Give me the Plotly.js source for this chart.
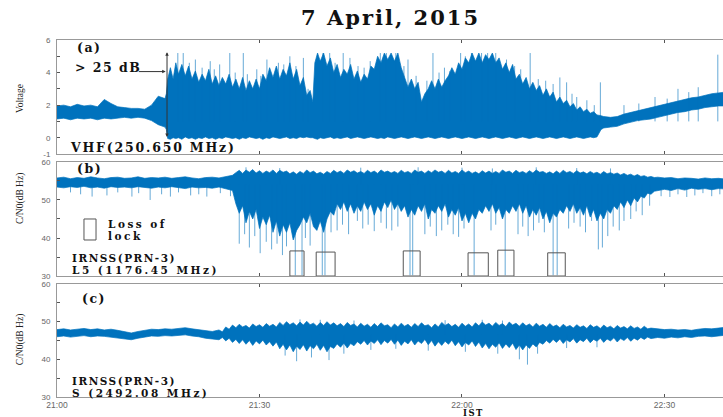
<!DOCTYPE html>
<html><head><meta charset="utf-8">
<script src="https://cdn.plot.ly/plotly-3.0.1.min.js"></script>
<style>html,body{margin:0;padding:0;background:#fff}#chart{width:723px;height:417px}</style>
</head><body><div id="chart"></div>
<script>
// ---------- DATA (minutes after 21:00 IST) ----------
const xTickVals = [0, 30, 60, 90];
const xTickText = ['21:00', '21:30', '22:00', '22:30'];

// Panel (a) VHF voltage envelope
const aT  = [0,1,2,3,4,5,6,7,8,9,
             10,11,12,13,14,15,16,16.2,16.4,16.8,
             17.2,17.6,18,18.5,19,19.5,20,20.5,21,21.5,
             22,22.5,23,23.5,24,24.5,25,25.5,26,26.5,
             27,27.5,28,28.5,29,29.5,30,30.5,31,31.5,
             32,32.5,33,33.5,34,34.5,35,35.5,36,36.5,
             37,37.5,37.9,38.2,38.6,39,39.5,40,40.5,41,
             41.5,42,42.5,43,43.5,44,44.5,45,45.5,46,
             46.5,47,47.5,48,48.5,49,49.5,50,50.5,51,
             51.5,52,52.5,53,53.5,54,54.5,55,55.5,56,
             56.5,57,57.5,58,58.5,59,59.5,60,60.5,61,
             61.5,62,62.5,63,63.5,64,64.5,65,65.5,66,
             66.5,67,67.5,68,68.5,69,69.5,70,70.5,71,
             71.5,72,72.5,73,73.5,74,74.5,75,75.5,76,
             76.5,77,77.5,78,78.5,79,79.5,80,80.6,81,
             82,83,84,85,86,87,88,89,90,91,
             92,93,94,95,96,97,98,99];
const aHi = [1.95,2.0,1.9,2.05,1.95,2.0,1.9,2.35,2.1,1.9,
             1.85,1.8,1.8,1.75,2.0,2.55,2.4,2.7,3.6,4.3,
             3.6,4.6,3.9,4.5,3.8,4.4,3.6,4.1,3.4,3.9,
             3.5,4.2,3.3,3.8,3.2,3.7,3.3,3.9,3.1,3.6,
             3.0,3.7,2.9,3.5,3.0,3.6,3.0,3.9,3.5,4.3,
             3.7,4.4,3.6,4.2,3.8,4.6,3.6,4.2,3.2,3.7,
             2.6,2.9,2.2,4.6,5.2,4.7,5.2,4.4,4.9,4.0,
             4.5,3.7,4.2,3.9,4.5,3.6,4.1,3.4,3.9,3.6,
             4.4,4.2,5.0,4.6,5.2,4.8,5.2,4.7,5.2,4.3,
             3.7,3.1,3.6,3.0,3.4,2.2,2.7,3.0,3.5,3.0,
             3.6,3.1,3.5,3.8,4.3,3.9,4.6,4.2,4.9,4.6,
             5.2,4.7,5.2,4.6,5.1,4.8,5.2,4.6,4.9,4.2,
             4.6,4.0,4.5,3.6,3.9,3.3,3.7,3.0,3.4,2.9,
             3.2,2.6,3.0,2.5,2.8,2.2,2.5,2.1,2.3,1.9,
             2.1,1.7,1.9,1.6,1.75,1.5,1.6,1.4,1.35,1.3,
             1.25,1.3,1.45,1.55,1.65,1.75,1.85,1.95,2.05,2.15,
             2.25,2.35,2.45,2.5,2.6,2.7,2.75,2.8];
const aLo = [1.15,1.2,1.1,1.2,1.15,1.2,1.1,1.2,1.15,1.2,
             1.25,1.2,1.25,1.2,1.05,0.8,0.65,0.5,-0.05,-0.1,
             0.0,-0.05,0.0,-0.1,0.05,-0.05,0.0,-0.1,0.0,-0.05,
             0.05,-0.05,0.0,-0.1,0.0,-0.05,0.05,0.0,-0.05,0.0,
             -0.1,0.0,-0.05,0.05,0.0,-0.05,0.0,-0.1,0.0,-0.05,
             0.05,0.0,-0.05,0.0,0.05,-0.05,0.0,-0.05,0.05,0.0,
             0.05,0.0,0.0,-0.05,-0.1,0.0,-0.05,0.0,0.05,-0.05,
             0.0,-0.05,0.0,0.05,-0.05,0.0,0.05,0.0,-0.05,0.0,
             0.05,0.0,-0.05,0.0,-0.05,0.05,0.0,-0.05,0.0,0.05,
             0.0,-0.05,0.0,0.05,0.0,-0.05,0.0,0.05,0.0,-0.05,
             0.0,0.05,0.0,-0.05,0.0,0.05,0.0,-0.05,0.0,0.05,
             0.0,-0.05,0.0,0.05,0.0,-0.05,0.0,0.05,0.0,-0.05,
             0.0,0.05,0.0,-0.05,0.0,0.05,0.0,-0.05,0.0,0.05,
             0.0,-0.05,0.0,0.05,0.0,-0.05,0.0,0.05,0.0,-0.05,
             0.0,0.05,0.0,-0.05,0.0,0.05,0.0,0.05,0.5,0.6,
             0.65,0.7,0.85,0.95,1.05,1.1,1.15,1.25,1.35,1.45,
             1.55,1.6,1.7,1.75,1.85,1.9,1.95,1.95];
const aSpikeT = [17.9,18.7,19.6,20.5,21.5,22.7,23.3,24.1,25.6,26.4, 27.6,28.2,29.6,30.2,31.1,32.8,33.6,34.5,35.4,36.5,
                 37.2,39.4,40.4,41.2,42.4,43.4,44.6,45.5,46.4,47.9, 48.8,50.2,51.4,52.0,53.2,54.8,55.7,56.6,57.4,58.2,
                 59.8,60.5,61.4,62.9,63.8,65.0,66.6,67.8,68.7,70.1, 71.3,72.4,73.5,74.5,75.5,76.3,77.0,78.5,79.6,80.5,
                 84.0,86.2,88.6,90.4,92.0,93.6,95.0,97.9];
const aSpikeV = [5.2,5.2,4.6,4.8,4.3,4.7,4.2,4.5,5.2,4.0, 5.2,3.9,4.2,3.8,4.8,4.6,4.5,5.0,4.4,4.9,
                 3.0,5.2,5.2,4.6,5.2,4.9,4.4,4.3,4.7,5.2, 5.2,5.2,4.4,4.8,3.8,3.5,5.2,4.0,4.3,4.1,
                 5.2,5.0,5.2,5.2,5.2,5.2,4.8,4.4,4.2,5.2, 3.6,3.5,3.3,3.7,3.4,2.7,2.5,2.3,2.0,3.4,
                 2.0,2.1,2.5,2.4,3.0,2.8,3.1,5.1];

// Panel (b) IRNSS L5 C/N0 envelope
const bT  = [0,1,2,3,4,5,6,7,8,9, 10,11,12,13,14,15,16,17,18,19, 20,21,22,23,24,25,26,
             26.5,27,27.5,28,28.5,29,29.5,30,30.5,31,
             31.5,32,32.5,33,33.5,34,34.5,35,35.5,36,
             36.5,37,37.5,38,38.5,39,39.5,40,40.5,41,
             41.5,42,42.5,43,43.5,44,44.5,45,45.5,46,
             46.5,47,47.5,48,48.5,49,49.5,50,50.5,51,
             51.5,52,52.5,53,53.5,54,54.5,55,55.5,56,
             56.5,57,57.5,58,58.5,59,59.5,60,60.5,61,
             61.5,62,62.5,63,63.5,64,64.5,65,65.5,66,
             66.5,67,67.5,68,68.5,69,69.5,70,70.5,71,
             71.5,72,72.5,73,73.5,74,74.5,75,75.5,76,
             76.5,77,77.5,78,78.5,79,79.5,80,80.5,81,
             81.5,82,82.5,83,83.5,84,84.5,85,85.5,86,
             86.5,87,87.5,88,88.5,89,
             90,91,92,93,94,95,96,97,98,99];
const bHi = [55.8,56.0,55.6,55.9,55.7,56.1,55.8,55.6,55.9,56.0, 55.7,55.8,56.1,55.7,55.9,55.8,56.0,55.7,55.9,56.1,
             55.8,55.6,55.9,56.0,55.8,56.2,56.5,
             57.2,57.8,57.0,57.9,57.3,58.0,57.1,57.7,57.0,57.6,
             57.2,57.9,57.0,57.8,57.3,57.6,56.9,57.4,56.8,57.5,
             57.0,57.9,57.2,57.6,56.9,57.3,56.8,57.5,57.0,57.8,
             57.2,57.6,57.0,57.9,57.3,57.7,57.1,57.5,57.0,57.8,
             57.2,57.6,57.0,57.9,57.3,57.6,57.1,57.5,57.0,57.8,
             57.2,57.5,57.0,57.9,57.3,57.6,57.0,57.7,57.2,57.9,
             57.3,57.6,57.0,57.8,57.1,57.5,57.0,57.9,57.2,57.6,
             57.0,57.4,56.9,57.7,57.1,57.6,57.0,57.5,57.0,57.9,
             57.3,57.6,57.0,57.8,57.2,57.5,57.0,57.7,57.1,57.9,
             57.3,57.5,57.0,57.4,56.9,57.6,57.0,57.8,57.2,57.5,
             57.0,57.7,57.1,57.4,56.9,57.5,57.0,57.3,56.8,57.5,
             56.9,57.2,56.8,57.1,56.6,57.0,56.5,56.8,56.3,56.7,
             56.2,56.4,56.0,56.2,55.9,56.0,
             55.8,55.9,55.6,55.8,55.7,55.5,55.8,55.6,55.7,55.5];
const bLo = [53.4,53.2,53.5,53.3,53.6,53.2,53.4,53.1,53.5,53.3, 53.4,53.2,53.5,53.3,53.1,53.4,53.2,53.5,53.3,53.0,
             53.4,53.2,53.3,53.1,53.4,53.0,52.5,
             49.0,46.5,48.5,44.0,47.0,45.0,47.5,42.5,45.5,43.5,
             46.0,41.5,44.5,40.5,43.5,41.5,44.0,39.5,42.0,43.5,
             45.5,44.0,46.5,43.0,42.0,44.5,41.5,45.0,47.0,46.0,
             49.0,47.5,49.5,47.0,49.0,46.5,48.5,47.0,49.5,47.5,
             49.0,46.0,48.5,47.0,49.5,48.0,50.0,47.5,49.0,47.0,
             48.5,45.5,47.5,46.0,48.5,47.0,49.0,45.0,47.5,46.5,
             48.5,47.0,49.0,45.5,47.5,46.0,48.0,44.5,46.5,44.0,
             46.5,45.0,47.5,46.5,48.5,47.0,49.0,46.5,48.0,45.0,
             47.5,46.5,48.5,47.0,49.0,46.5,48.5,45.5,47.5,46.0,
             48.0,45.0,47.0,44.0,46.5,45.5,47.5,46.5,48.5,47.0,
             49.0,46.5,48.0,46.0,48.5,45.5,47.5,44.5,46.5,45.0,
             47.5,46.5,48.5,47.5,49.5,48.0,50.0,48.5,50.5,49.5,
             51.0,50.5,51.8,51.5,52.3,52.5,
             52.8,52.5,53.0,52.6,53.1,52.8,53.0,52.7,53.0,52.9];
const bDropT = [2.0,3.5,5.2,7.4,9.0,11.1,12.1,13.8,15.5,16.8, 18.0,19.8,21.0,22.2,24.2,25.7,27.0,27.8,28.5,29.3,
                30.1,31.0,31.8,32.6,33.4,34.0,35.3,36.3,36.8,37.5, 39.3,39.7,40.6,41.5,42.3,43.2,44.5,45.3,46.1,47.0,
                48.0,48.8,49.6,50.5,52.3,52.7,54.5,55.3,56.2,57.0, 57.9,58.7,59.5,60.3,61.8,64.3,65.0,66.4,68.3,69.0,
                69.8,70.6,71.4,72.2,73.5,74.1,75.8,76.6,77.5,78.3, 79.2,80.2,80.8,81.6,82.4,83.3,84.0,85.0,85.8,86.7,
                87.8,89.5,90.8,92.0,93.3,94.5,95.7,97.0,98.2];
const bDropV = [52.0,51.5,50.9,51.2,52.0,50.9,51.8,50.0,51.5,50.9, 52.0,51.2,51.5,50.9,51.8,51.0,38.5,41.0,37.5,40.5,
                36.0,39.0,37.0,38.5,35.5,37.8,30.2,30.2,40.0,38.0, 30.2,30.2,41.5,42.0,43.5,41.0,44.5,42.5,43.5,41.8,
                44.0,42.5,42.0,43.0,30.2,30.2,41.0,43.0,40.5,42.0, 43.5,41.0,40.3,42.5,30.2,42.0,43.5,30.2,41.0,43.0,
                40.5,42.0,44.0,41.5,30.2,30.2,42.5,44.0,43.0,41.5, 44.5,37.0,37.5,40.5,43.0,42.0,44.5,45.0,47.0,46.0,
                48.5,51.0,50.8,51.5,50.8,51.2,51.8,51.0,51.5];
const bPeakT = [28.0,33.0,45.0,53.5,60.0,64.5,71.0,77.0,82.0];
const bPeakV = [58.6,58.4,58.5,58.6,58.5,58.3,58.6,58.4,58.3];
// Loss-of-lock windows
const lolStart = [34.5, 38.4, 51.3, 60.9, 65.3, 72.7];
const lolEnd   = [36.6, 41.2, 53.8, 63.9, 67.7, 75.3];
const lolTop   = [36.6, 36.3, 36.6, 36.1, 36.8, 36.1];

// Panel (c) IRNSS S-band C/N0 envelope
const cT  = [0,1,2,3,4,5,6,7,8,9, 10,11,12,13,14,15,16,17,18,19, 20,21,22,23,24,
             24.5,25,25.5,26,26.5,27,27.5,28,28.5,29,
             29.5,30,30.5,31,31.5,32,32.5,33,33.5,34,
             34.5,35,35.5,36,36.5,37,37.5,38,38.5,39,
             39.5,40,40.5,41,41.5,42,42.5,43,43.5,44,
             44.5,45,45.5,46,46.5,47,47.5,48,48.5,49,
             49.5,50,50.5,51,51.5,52,52.5,53,53.5,54,
             54.5,55,55.5,56,56.5,57,57.5,58,58.5,59,
             59.5,60,60.5,61,61.5,62,62.5,63,63.5,64,
             64.5,65,65.5,66,66.5,67,67.5,68,68.5,69,
             69.5,70,70.5,71,71.5,72,72.5,73,73.5,74,
             74.5,75,75.5,76,76.5,77,77.5,78,78.5,79,
             79.5,80,80.5,81,81.5,82,82.5,83,83.5,84,
             84.5,85,85.5,86,86.5,87,87.5,88,
             89,90,91,92,93,94,95,96,97,98,99];
const cHi = [47.9,48.1,47.8,48.0,48.2,47.9,48.1,47.8,48.0,47.7, 47.3,47.0,47.4,47.8,48.0,47.9,48.1,48.0,48.3,48.4, 48.1,47.9,47.6,47.4,47.8,
             47.3,48.6,48.0,49.1,48.4,49.3,48.6,49.0,48.3,49.4,
             48.7,49.2,48.5,49.5,48.8,49.3,48.6,49.8,49.0,50.0,
             49.2,49.7,48.9,49.9,49.1,50.1,49.2,49.6,48.8,49.8,
             49.0,50.0,49.1,49.7,48.9,49.5,48.7,49.8,49.0,49.4,
             48.6,49.6,48.8,49.3,48.5,49.5,48.7,49.7,48.9,49.2,
             48.4,49.4,48.6,49.6,48.8,49.3,48.5,49.5,48.7,49.7,
             48.9,49.2,48.4,49.4,48.6,49.8,49.0,49.5,48.7,49.3,
             48.5,49.6,48.8,49.4,48.6,49.7,48.9,49.9,49.1,49.6,
             48.8,49.8,49.0,49.5,48.7,49.9,49.1,49.6,48.8,49.7,
             48.9,49.4,48.6,49.6,48.8,49.3,48.5,49.5,48.7,49.1,
             48.4,49.3,48.6,49.0,48.3,49.2,48.5,48.9,48.2,49.2,
             48.5,48.9,48.2,49.1,48.4,48.8,48.1,49.0,48.3,48.7,
             48.1,48.9,48.2,48.6,48.0,48.8,48.1,48.3,
             48.1,47.9,48.0,47.8,47.9,47.7,48.0,48.2,48.1,48.4,48.5];
const cLo = [46.0,46.2,45.9,46.1,46.3,46.0,46.2,46.1,45.9,45.8, 45.4,45.2,45.6,46.0,46.2,46.1,46.3,46.2,46.4,46.5, 46.2,46.0,45.6,45.3,45.2,
             45.8,44.9,45.6,44.5,45.3,44.2,45.2,44.0,45.0,43.7,
             44.9,44.1,45.1,43.8,44.7,43.5,44.6,42.8,44.0,42.5,
             43.8,42.0,43.5,42.6,43.9,42.2,43.6,42.8,44.0,42.4,
             43.7,42.0,43.4,42.9,44.1,43.2,44.3,43.0,44.2,43.6,
             44.7,44.0,45.0,43.8,44.9,44.2,45.2,43.9,45.0,44.3,
             45.3,44.0,45.1,43.7,44.8,44.1,45.2,43.8,44.9,44.2,
             45.3,43.9,45.0,43.5,44.7,43.7,44.8,44.0,45.1,43.6,
             44.7,43.3,44.5,43.8,44.9,43.4,44.6,43.0,44.2,42.8,
             44.0,43.2,44.4,42.9,44.1,43.1,44.3,42.6,43.8,42.5,
             43.8,42.9,44.1,43.3,44.5,44.0,45.0,44.3,45.3,44.5,
             45.4,44.2,45.2,44.6,45.5,44.3,45.2,44.7,45.6,44.4,
             45.3,44.8,45.6,44.5,45.4,44.9,45.7,44.6,45.5,45.0,
             45.8,44.8,45.6,45.1,45.8,45.3,45.9,45.5,
             45.8,45.6,45.9,45.7,46.0,45.8,46.1,46.2,46.0,46.3,46.4];
const cDropT = [33.8,35.5,37.7,40.3,42.5,46.5,50.2,55.0,60.5,65.3,68.5,69.7,71.2,75.5,80.0];
const cDropV = [41.0,39.5,40.5,39.8,41.5,42.5,42.8,42.3,42.0,41.5,40.0,38.6,41.5,43.0,43.2];
const cPeakT = [36.0,39.0,44.0,57.5,63.0,66.0];
const cPeakV = [50.6,50.5,50.3,50.4,50.5,50.3];

// ---------- DRAWING ----------
const BLUE = '#0072BD';
const SPK = 'rgba(0,114,189,0.6)';
function band(t, lo, hi, s) {
  return [
    {x: t, y: lo, xaxis: 'x' + s, yaxis: 'y' + s, mode: 'lines', line: {color: BLUE, width: 0.7}, hoverinfo: 'skip'},
    {x: t, y: hi, xaxis: 'x' + s, yaxis: 'y' + s, mode: 'lines', fill: 'tonexty', fillcolor: BLUE,
     line: {color: BLUE, width: 0.7}, hoverinfo: 'skip'}
  ];
}
function spikes(ts, vs, base, s, color) {
  const x = [], y = [];
  ts.forEach((t, i) => { x.push(t, t, null); y.push(base, vs[i], null); });
  return {x, y, xaxis: 'x' + s, yaxis: 'y' + s, mode: 'lines', line: {color: color, width: 1}, hoverinfo: 'skip'};
}

const traces = [
  ...band(aT, aLo, aHi, ''),
  spikes(aSpikeT, aSpikeV, 1.0, '', SPK),
  ...band(bT, bLo, bHi, '2'),
  spikes(bDropT, bDropV, 54, '2', SPK),
  spikes(bPeakT, bPeakV, 54, '2', SPK),
  ...band(cT, cLo, cHi, '3'),
  spikes(cDropT, cDropV, 46.5, '3', SPK),
  spikes(cPeakT, cPeakV, 46.5, '3', SPK)
];

const tickFont = {family: 'Liberation Sans, Arial, sans-serif', size: 8.5, color: '#666'};
const yTickFont = {family: 'Liberation Sans, Arial, sans-serif', size: 8, color: '#666'};
const XR = [0, 98.67];
function xax(anchor, labels) {
  return {anchor: anchor, domain: [0, 1], range: XR, tickvals: xTickVals, ticktext: xTickText,
    showticklabels: labels, ticks: 'inside', ticklen: 3, tickcolor: '#555', tickfont: tickFont,
    showline: true, linecolor: '#999', linewidth: 1, mirror: 'ticks', showgrid: false, zeroline: false,
    ticklabelstandoff: 0};
}
function yax(domain, range, vals, text) {
  return {domain: domain, range: range, tickvals: vals, ticktext: text, ticks: 'inside', ticklen: 3,
    tickcolor: '#555', tickfont: yTickFont, showline: true, linecolor: '#999', linewidth: 1,
    showgrid: false, zeroline: false, ticklabelstandoff: 4};
}
const cnVals = [30, 35, 40, 45, 50, 55, 60];
const cnText = ['30', '', '40', '', '50', '', '60'];

const shapes = lolStart.map((s, i) => ({
  type: 'rect', xref: 'x2', yref: 'y2', x0: s, x1: lolEnd[i], y0: 30, y1: lolTop[i],
  line: {color: '#555', width: 1}, fillcolor: 'rgba(0,0,0,0)', layer: 'above'
}));
shapes.push({type: 'rect', xref: 'paper', yref: 'paper', x0: 0.0405, x1: 0.0586, y0: 0.4398, y1: 0.4986,
  line: {color: '#555', width: 1}, fillcolor: 'rgba(0,0,0,0)'});

const SERIF = 'DejaVu Serif, Liberation Serif, serif';
const lab = {family: SERIF, size: 12.5, color: '#111'};
const labS = {family: SERIF, size: 10.5, color: '#111'};
function sp(text, px) { return '<span style="letter-spacing:' + px + 'px"><b>' + text + '</b></span>'; }
function ann(text, x, y, font, xanchor) {
  return {text: text, x: x, y: y, xref: 'paper', yref: 'paper', showarrow: false,
    xanchor: xanchor || 'left', yanchor: 'middle', font: font || lab};
}
const yTitleFont = {family: 'Liberation Serif, serif', size: 9.5, color: '#222'};
const annotations = [
  ann(sp('7 April, 2015', 2), 0.5, 1.064, {family: SERIF, size: 21, color: '#111'}, 'center'),
  ann(sp('(a)', 1.5), 0.027, 0.980),
  ann(sp('&gt; 25 dB', 1.5), 0.024, 0.924),
  ann(sp('VHF(250.650 MHz)', 1.8), 0.0165, 0.6975),
  ann(sp('(b)', 1.5), 0.027, 0.641),
  ann(sp('Loss of', 2.5), 0.0736, 0.484, labS),
  ann(sp('lock', 2.5), 0.0736, 0.452, labS),
  ann(sp('IRNSS(PRN-3)', 1.5), 0.0195, 0.3894, labS),
  ann(sp('L5 (1176.45 MHz)', 2.5), 0.0195, 0.3557, labS),
  ann(sp('(c)', 1.5), 0.0345, 0.277),
  ann(sp('IRNSS(PRN-3)', 1.5), 0.0195, 0.0448, labS),
  ann(sp('S (2492.08 MHz)', 2.5), 0.0195, 0.0112, labS),
  {text: sp('IST', 1.5), x: 0.625, y: 0, xref: 'paper', yref: 'paper', yshift: -10, showarrow: false,
   xanchor: 'center', yanchor: 'top', borderpad: 0, font: {family: SERIF, size: 8.5, color: '#111'}},
  Object.assign(ann('Voltage', -0.0556, 0.8375, yTitleFont, 'center'), {textangle: -90}),
  Object.assign(ann('C/N0(dB Hz)', -0.0556, 0.557, yTitleFont, 'center'), {textangle: -90}),
  Object.assign(ann('C/N0(dB Hz)', -0.0556, 0.162, yTitleFont, 'center'), {textangle: -90}),
  // arrows marking the >25 dB jump
  {x: 16.3, y: 5.25, ax: 16.3, ay: -0.05, xref: 'x', yref: 'y', axref: 'x', ayref: 'y', text: '',
   showarrow: true, arrowhead: 2, arrowside: 'end+start', arrowsize: 0.7, arrowwidth: 1, arrowcolor: '#333'},
  {x: 16.1, y: 4.06, ax: 11.9, ay: 4.06, xref: 'x', yref: 'y', axref: 'x', ayref: 'y', text: '',
   showarrow: true, arrowhead: 2, arrowsize: 0.7, arrowwidth: 1, arrowcolor: '#333'}
];

const layout = {
  width: 723, height: 417, margin: {l: 57, r: 0, t: 40, b: 20},
  paper_bgcolor: '#fff', plot_bgcolor: '#fff', showlegend: false,
  xaxis: xax('y', false), xaxis2: xax('y2', false), xaxis3: xax('y3', true),
  yaxis: yax([0.6807, 1], [-1, 6], [-1, 0, 1, 2, 3, 4, 5, 6], ['-1', '0', '', '2', '', '4', '', '6']),
  yaxis2: yax([0.3389, 0.6583], [30, 60], cnVals, cnText),
  yaxis3: yax([0, 0.3165], [30, 60], cnVals, cnText),
  shapes: shapes, annotations: annotations
};
Plotly.newPlot('chart', traces, layout, {staticPlot: true, displayModeBar: false});
</script></body></html>
